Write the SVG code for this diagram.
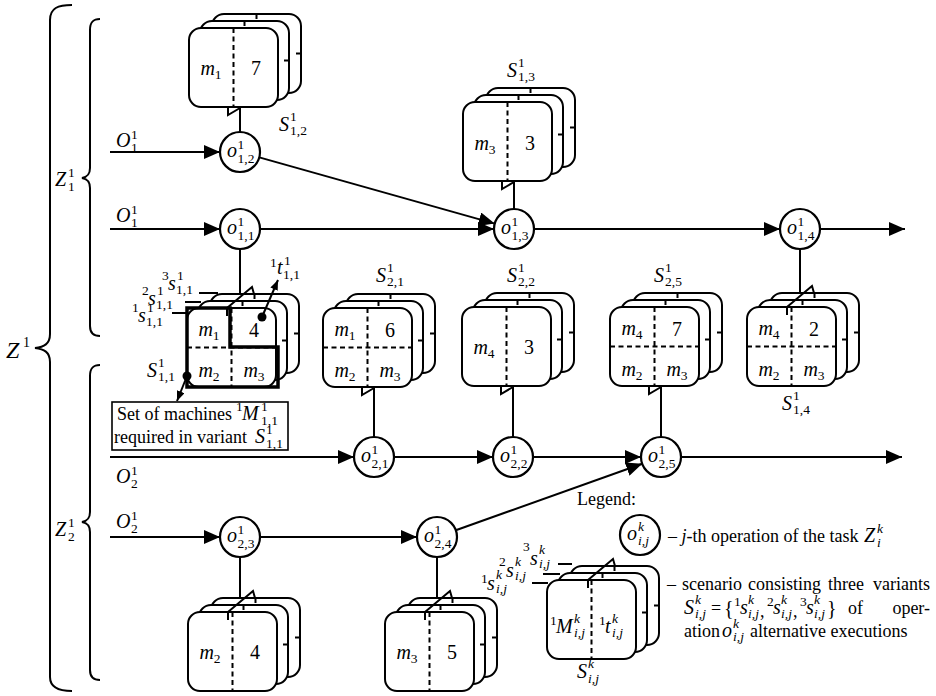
<svg xmlns="http://www.w3.org/2000/svg" width="936" height="696" viewBox="0 0 936 696">
<style>
.ln{fill:none;stroke:#000;stroke-width:2}
.card{fill:#fff;stroke:#000;stroke-width:2}
.dsh{fill:none;stroke:#000;stroke-width:2;stroke-dasharray:5 3.5}
.nd{fill:#fff;stroke:#000;stroke-width:2.2}
.mi{font-family:"Liberation Serif","Times New Roman",serif;font-style:italic;font-size:20px}
.dg{font-family:"Liberation Serif","Times New Roman",serif;font-size:20px}
.sc{font-family:"Liberation Serif","Times New Roman",serif;font-style:normal;font-size:13.5px}
.si{font-family:"Liberation Serif","Times New Roman",serif;font-style:italic;font-size:13.5px}
.tx{font-family:"Liberation Serif","Times New Roman",serif;font-size:18px}
</style>
<defs>
<marker id="ah" viewBox="0 0 16 14" refX="16" refY="7" markerWidth="16" markerHeight="14" markerUnits="userSpaceOnUse" orient="auto"><path d="M0,0L16,7L0,14Z"/></marker>
<marker id="as" viewBox="0 0 10 8" refX="10" refY="4" markerWidth="10" markerHeight="8" markerUnits="userSpaceOnUse" orient="auto"><path d="M0,0L10,4L0,8Z"/></marker>
<g id="stk">
<rect class="card" x="23" y="-14" width="89" height="79" rx="12"/>
<path class="ln" d="M67.5,-14v5M112,25.5h-5"/>
<rect class="card" x="11" y="-7" width="89" height="79" rx="12"/>
<path class="ln" d="M55.5,-7v5M100,32.5h-5"/>
<rect class="card" x="0" y="0" width="89" height="79" rx="12"/>
<path class="dsh" d="M44.5,0V79"/>
</g>
<g id="stk4"><use href="#stk"/><path class="dsh" d="M0,39.5H89"/></g>
</defs>
<rect width="936" height="696" fill="#fff"/>

<g id="braces" class="ln">
<path d="M72,5C58,5 50,8 50,20L50,334C50,344 44,347 35,348C44,349 50,352 50,362L50,677C50,687 58,691 72,691"/>
<path d="M100,19C93,19 90,22 90,30L90,168C90,175 87,177 82,178C87,179 90,181 90,188L90,326C90,333 93,336 100,336"/>
<path d="M100,365C93,365 90,368 90,376L90,512C90,519 87,521 82,522C87,523 90,525 90,532L90,670C90,677 93,680 100,680"/>
</g>
<g id="brace-labels">
<text class="mi" x="6" y="358" style="font-size:24px">Z<tspan class="sc" x="23" y="347" style="font-size:14px">1</tspan></text>
<text class="mi" x="55" y="186">Z<tspan class="sc" x="68" y="177">1</tspan><tspan class="sc" x="68" y="191">1</tspan></text>
<text class="mi" x="55" y="536">Z<tspan class="sc" x="68" y="527">1</tspan><tspan class="sc" x="68" y="541">2</tspan></text>
<text class="mi" x="116" y="147">O<tspan class="sc" x="131" y="139">1</tspan><tspan class="sc" x="131" y="152">1</tspan></text>
<text class="mi" x="116" y="222">O<tspan class="sc" x="131" y="214">1</tspan><tspan class="sc" x="131" y="227">1</tspan></text>
<text class="mi" x="116" y="483">O<tspan class="sc" x="131" y="475">1</tspan><tspan class="sc" x="131" y="488">2</tspan></text>
<text class="mi" x="116" y="528">O<tspan class="sc" x="131" y="520">1</tspan><tspan class="sc" x="131" y="533">2</tspan></text>
</g>

<g id="connectors" class="ln">
<path d="M110,152H220" marker-end="url(#ah)"/>
<path d="M110,229H220" marker-end="url(#ah)"/>
<path d="M260,229H494" marker-end="url(#ah)"/>
<path d="M534,229H780" marker-end="url(#ah)"/>
<path d="M820,229H905" marker-end="url(#ah)"/>
<path d="M259.3,157.4L494.7,223.6" marker-end="url(#ah)"/>
<path d="M110,457H354" marker-end="url(#ah)"/>
<path d="M394,457H493" marker-end="url(#ah)"/>
<path d="M533,457H641" marker-end="url(#ah)"/>
<path d="M681,457H902" marker-end="url(#ah)"/>
<path d="M110,537H220" marker-end="url(#ah)"/>
<path d="M260,537H417" marker-end="url(#ah)"/>
<path d="M455.8,530.3L642.2,463.7" marker-end="url(#ah)"/>
<path d="M240,107V132M514,181V209M374,387V437M513,386V437M661,386V437"/>
<path d="M240,249V294M800,249V293M240,557V598M437,557V598"/>
<polyline points="228,107 228,115 240,108"/>
<polyline points="502,181 502,189 514,182"/>
<polyline points="362,387 362,395 374,388"/>
<polyline points="501,386 501,394 513,387"/>
<polyline points="649,386 649,394 661,387"/>
</g>

<g id="S12">
<use href="#stk" x="189" y="28"/>
<text class="mi" x="211" y="75" text-anchor="middle">m<tspan class="sc" dy="4">1</tspan></text>
<text class="dg" x="256" y="75" text-anchor="middle">7</text>
<text class="mi" x="279" y="131">S<tspan class="sc" x="290" y="121">1</tspan><tspan class="sc" x="290" y="135">1,2</tspan></text>
</g>
<g id="S13">
<use href="#stk" x="463" y="102"/>
<text class="mi" x="485" y="150" text-anchor="middle">m<tspan class="sc" dy="4">3</tspan></text>
<text class="dg" x="530" y="150" text-anchor="middle">3</text>
<text class="mi" x="507" y="77">S<tspan class="sc" x="518" y="67">1</tspan><tspan class="sc" x="518" y="81">1,3</tspan></text>
</g>
<g id="S11">
<use href="#stk4" x="187" y="308"/>
<path class="ln" d="M227,308v8M227,308L252,287L254,294"/>
<path d="M187,308H230V347H278V387H187Z" fill="none" stroke="#000" stroke-width="3.5"/>
<text class="mi" x="209" y="336" text-anchor="middle">m<tspan class="sc" dy="4">1</tspan></text>
<text class="dg" x="254" y="337" text-anchor="middle">4</text>
<text class="mi" x="209" y="377" text-anchor="middle">m<tspan class="sc" dy="4">2</tspan></text>
<text class="mi" x="254" y="377" text-anchor="middle">m<tspan class="sc" dy="4">3</tspan></text>
<text class="mi" x="147" y="377">S<tspan class="sc" x="158" y="367">1</tspan><tspan class="sc" x="158" y="381">1,1</tspan></text>
<circle cx="262" cy="317" r="4.5"/>
<path class="ln" d="M262,317L278,280" marker-end="url(#as)"/>
<circle cx="187" cy="376" r="4.5"/>
<path class="ln" d="M187,376L177,401" marker-end="url(#as)"/>
<text class="sc" x="270" y="267">1</text>
<text class="mi" x="277" y="274">t<tspan class="sc" x="284" y="265">1</tspan><tspan class="sc" x="283" y="279">1,1</tspan></text>
<text class="sc" x="162" y="280">3</text>
<text class="mi" x="168" y="290">s<tspan class="sc" x="177" y="280">1</tspan><tspan class="sc" x="176" y="294">1,1</tspan></text>
<text class="sc" x="142" y="295">2</text>
<text class="mi" x="148" y="305">s<tspan class="sc" x="157" y="295">1</tspan><tspan class="sc" x="156" y="309">1,1</tspan></text>
<text class="sc" x="132" y="312">1</text>
<text class="mi" x="138" y="322">s<tspan class="sc" x="147" y="312">1</tspan><tspan class="sc" x="146" y="326">1,1</tspan></text>
<path class="ln" d="M199,293H218M185,302H201M172,313H187" stroke-width="1.6"/>
<rect x="112" y="402" width="176" height="48" fill="#fff" stroke="#000" stroke-width="1.6"/>
<text class="tx" x="117" y="420">Set of machines</text>
<text class="sc" x="236" y="411">1</text>
<text class="mi" x="242" y="420">M<tspan class="sc" x="261" y="411">1</tspan><tspan class="sc" x="261" y="425">1,1</tspan></text>
<text class="tx" x="114" y="443">required in variant</text>
<text class="mi" x="255" y="443">S<tspan class="sc" x="266" y="434">1</tspan><tspan class="sc" x="266" y="448">1,1</tspan></text>
</g>
<g id="S21">
<use href="#stk4" x="323" y="308"/>
<text class="mi" x="345" y="336" text-anchor="middle">m<tspan class="sc" dy="4">1</tspan></text>
<text class="dg" x="390" y="337" text-anchor="middle">6</text>
<text class="mi" x="345" y="377" text-anchor="middle">m<tspan class="sc" dy="4">2</tspan></text>
<text class="mi" x="390" y="377" text-anchor="middle">m<tspan class="sc" dy="4">3</tspan></text>
<text class="mi" x="376" y="282">S<tspan class="sc" x="387" y="272">1</tspan><tspan class="sc" x="387" y="286">2,1</tspan></text>
</g>
<g id="S22">
<use href="#stk" x="462" y="307"/>
<text class="mi" x="484" y="354" text-anchor="middle">m<tspan class="sc" dy="4">4</tspan></text>
<text class="dg" x="529" y="354" text-anchor="middle">3</text>
<text class="mi" x="507" y="282">S<tspan class="sc" x="518" y="272">1</tspan><tspan class="sc" x="518" y="286">2,2</tspan></text>
</g>
<g id="S25">
<use href="#stk4" x="610" y="307"/>
<text class="mi" x="632" y="335" text-anchor="middle">m<tspan class="sc" dy="4">4</tspan></text>
<text class="dg" x="677" y="336" text-anchor="middle">7</text>
<text class="mi" x="632" y="376" text-anchor="middle">m<tspan class="sc" dy="4">2</tspan></text>
<text class="mi" x="677" y="376" text-anchor="middle">m<tspan class="sc" dy="4">3</tspan></text>
<text class="mi" x="654" y="282">S<tspan class="sc" x="665" y="272">1</tspan><tspan class="sc" x="665" y="286">2,5</tspan></text>
</g>
<g id="S14">
<use href="#stk4" x="747" y="307"/>
<path class="ln" d="M787,307v8M787,307L812,286L814,293"/>
<text class="mi" x="769" y="335" text-anchor="middle">m<tspan class="sc" dy="4">4</tspan></text>
<text class="dg" x="814" y="336" text-anchor="middle">2</text>
<text class="mi" x="769" y="376" text-anchor="middle">m<tspan class="sc" dy="4">2</tspan></text>
<text class="mi" x="814" y="376" text-anchor="middle">m<tspan class="sc" dy="4">3</tspan></text>
<text class="mi" x="782" y="410">S<tspan class="sc" x="793" y="400">1</tspan><tspan class="sc" x="793" y="414">1,4</tspan></text>
</g>
<g id="S23">
<use href="#stk" x="188" y="612"/>
<path class="ln" d="M228,612v8M228,612L253,591L255,598"/>
<text class="mi" x="210" y="659" text-anchor="middle">m<tspan class="sc" dy="4">2</tspan></text>
<text class="dg" x="255" y="659" text-anchor="middle">4</text>
</g>
<g id="S24">
<use href="#stk" x="385" y="612"/>
<path class="ln" d="M425,612v8M425,612L450,591L452,598"/>
<text class="mi" x="407" y="659" text-anchor="middle">m<tspan class="sc" dy="4">3</tspan></text>
<text class="dg" x="452" y="659" text-anchor="middle">5</text>
</g>

<g id="o12"><circle class="nd" cx="240" cy="152" r="20"/><text class="mi" x="227" y="157">o<tspan class="sc" x="237.5" y="149">1</tspan><tspan class="sc" x="237.5" y="163">1,2</tspan></text></g>
<g id="o11"><circle class="nd" cx="240" cy="229" r="20"/><text class="mi" x="227" y="234">o<tspan class="sc" x="237.5" y="226">1</tspan><tspan class="sc" x="237.5" y="240">1,1</tspan></text></g>
<g id="o13"><circle class="nd" cx="514" cy="229" r="20"/><text class="mi" x="501" y="234">o<tspan class="sc" x="511.5" y="226">1</tspan><tspan class="sc" x="511.5" y="240">1,3</tspan></text></g>
<g id="o14"><circle class="nd" cx="800" cy="229" r="20"/><text class="mi" x="787" y="234">o<tspan class="sc" x="797.5" y="226">1</tspan><tspan class="sc" x="797.5" y="240">1,4</tspan></text></g>
<g id="o21"><circle class="nd" cx="374" cy="457" r="20"/><text class="mi" x="361" y="462">o<tspan class="sc" x="371.5" y="454">1</tspan><tspan class="sc" x="371.5" y="468">2,1</tspan></text></g>
<g id="o22"><circle class="nd" cx="513" cy="457" r="20"/><text class="mi" x="500" y="462">o<tspan class="sc" x="510.5" y="454">1</tspan><tspan class="sc" x="510.5" y="468">2,2</tspan></text></g>
<g id="o25"><circle class="nd" cx="661" cy="457" r="20"/><text class="mi" x="648" y="462">o<tspan class="sc" x="658.5" y="454">1</tspan><tspan class="sc" x="658.5" y="468">2,5</tspan></text></g>
<g id="o23"><circle class="nd" cx="240" cy="537" r="20"/><text class="mi" x="227" y="542">o<tspan class="sc" x="237.5" y="534">1</tspan><tspan class="sc" x="237.5" y="548">2,3</tspan></text></g>
<g id="o24"><circle class="nd" cx="437" cy="537" r="20"/><text class="mi" x="424" y="542">o<tspan class="sc" x="434.5" y="534">1</tspan><tspan class="sc" x="434.5" y="548">2,4</tspan></text></g>

<g id="legend">
<text class="tx" x="577" y="505">Legend:</text>
<circle class="nd" cx="640" cy="535" r="20"/>
<text class="mi" x="627" y="540">o<tspan class="si" x="638" y="531">k</tspan><tspan class="si" x="638" y="545">i,j</tspan></text>
<text class="tx" x="668" y="542">– <tspan font-style="italic">j</tspan>-th operation of the task</text>
<text class="mi" x="864" y="542">Z<tspan class="si" x="877" y="533">k</tspan><tspan class="si" x="877" y="547">i</tspan></text>
<use href="#stk" x="547" y="580"/>
<path class="ln" d="M588,580v8M588,580L613,559L615,566"/>
<text class="sc" x="550" y="625">1</text>
<text class="mi" x="556" y="633">M<tspan class="si" x="574" y="623">k</tspan><tspan class="si" x="574" y="637">i,j</tspan></text>
<text class="sc" x="599" y="625">1</text>
<text class="mi" x="605" y="633">t<tspan class="si" x="612" y="623">k</tspan><tspan class="si" x="612" y="637">i,j</tspan></text>
<text class="mi" x="577" y="678">S<tspan class="si" x="588" y="668">k</tspan><tspan class="si" x="588" y="683">i,j</tspan></text>
<text class="sc" x="523" y="551">3</text>
<text class="mi" x="530" y="565">s<tspan class="si" x="539" y="554">k</tspan><tspan class="si" x="539" y="568">i,j</tspan></text>
<text class="sc" x="499" y="566">2</text>
<text class="mi" x="506" y="577">s<tspan class="si" x="515" y="566">k</tspan><tspan class="si" x="515" y="580">i,j</tspan></text>
<text class="sc" x="481" y="583">1</text>
<text class="mi" x="487" y="590">s<tspan class="si" x="496" y="579">k</tspan><tspan class="si" x="496" y="593">i,j</tspan></text>
<path class="ln" d="M558,564H572M543,574H560M532,583H548" stroke-width="1.6"/>
<text class="tx" x="667" y="590">–</text>
<text class="tx" x="682" y="590">scenario</text>
<text class="tx" x="748" y="590">consisting</text>
<text class="tx" x="828" y="590">three</text>
<text class="tx" x="930" y="590" text-anchor="end">variants</text>
<text class="mi" x="684" y="614">S<tspan class="si" x="695" y="604">k</tspan><tspan class="si" x="695" y="618">i,j</tspan></text>
<text class="tx" x="711" y="614">=</text>
<text class="tx" x="724" y="615" style="font-size:20px">{</text>
<text class="sc" x="734" y="606">1</text>
<text class="mi" x="740" y="614">s<tspan class="si" x="748" y="604">k</tspan><tspan class="si" x="748" y="618">i,j</tspan></text>
<text class="tx" x="760" y="617">,</text>
<text class="sc" x="767" y="606">2</text>
<text class="mi" x="773" y="614">s<tspan class="si" x="781" y="604">k</tspan><tspan class="si" x="781" y="618">i,j</tspan></text>
<text class="tx" x="793" y="617">,</text>
<text class="sc" x="800" y="606">3</text>
<text class="mi" x="806" y="614">s<tspan class="si" x="814" y="604">k</tspan><tspan class="si" x="814" y="618">i,j</tspan></text>
<text class="tx" x="827" y="615" style="font-size:20px">}</text>
<text class="tx" x="848" y="614">of</text>
<text class="tx" x="930" y="614" text-anchor="end">oper-</text>
<text class="tx" x="684" y="637">ation</text>
<text class="mi" x="722" y="637">o<tspan class="si" x="733" y="628">k</tspan><tspan class="si" x="733" y="641">i,j</tspan></text>
<text class="tx" x="750" y="637">alternative executions</text>
</g>
</svg>
